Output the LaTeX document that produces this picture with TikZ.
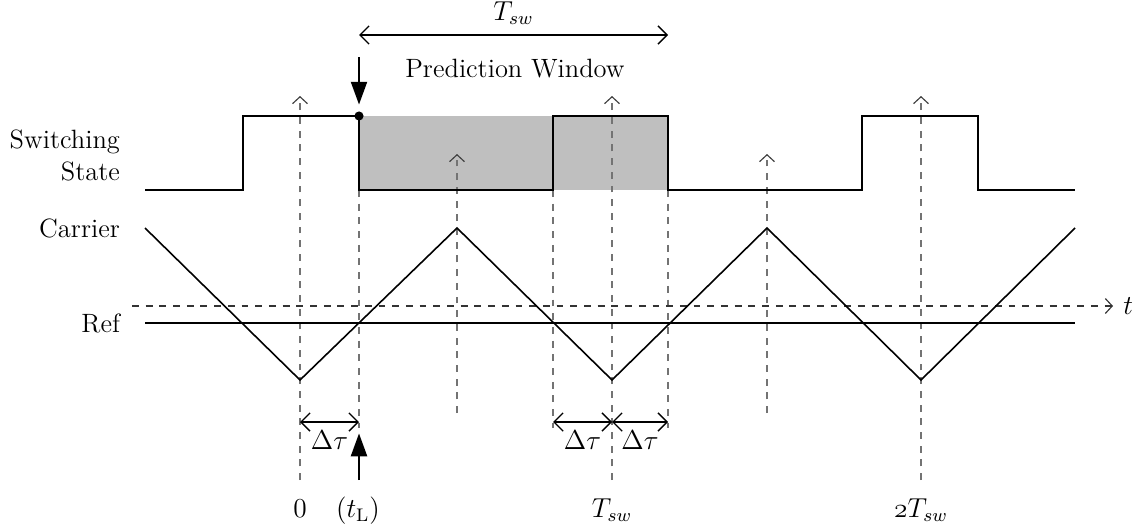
\documentclass[tikz,border=0pt]{standalone}
\usetikzlibrary{arrows.meta,positioning}
\tikzset{
  guide/.style={dashed, black!55, line width=0.5pt},
  guidetip/.style={guide, -{Straight Barb[length=3pt,width=6.5pt,black!75]}},
  wave/.style={line width=0.7pt},
  state/.style={line width=1.1pt},
  span/.style={{Straight Barb[length=4pt,width=8pt]}-{Straight Barb[length=4pt,width=8pt]}, line width=0.6pt},
  marker/.style={-{Triangle[length=10pt,width=7pt]}, line width=1pt},
  tick/.style={anchor=base},
}
\begin{document}
\begin{tikzpicture}[x=0.0154cm, y=-0.0154cm, font=\fontsize{11.6}{14}\selectfont]
\useasboundingbox (0,0) rectangle (1142,527);
% prediction window
\fill[gray!50] (359,116) rectangle (668,190);
% sampling instants
\foreach \x in {300,612,921} \draw[guidetip] (\x,480) -- (\x,96);
\foreach \x in {457,767} \draw[guidetip] (\x,413) -- (\x,154);
\foreach \x in {359,553,668} \draw[guide] (\x,190) -- (\x,428);
% time axis
\coordinate (ax0) at (132,306);
\coordinate (ax1) at (1113,306);
\draw[dashed, black!80, line width=0.5pt, -{Straight Barb[length=3pt,width=6.5pt]}] (ax0) -- (ax1);
\node[right=1pt of ax1] (tlab) {$t$};
% signals
\draw[state] (145,190) -- (243,190) -- (243,116) -- (359,116) -- (359,190) -- (553,190) -- (553,116) -- (668,116) -- (668,190) -- (862,190) -- (862,116) -- (978,116) -- (978,190) -- (1075,190);
\draw[wave] (145,228) -- (300,380) -- (457,228) -- (612,380) -- (767,228) -- (921,380) -- (1075,228);
\draw[wave] (145,323) -- (1075,323);
% row labels
\node[left, align=right] (swlab) at (128,155) {Switching\\State};
\node[left] (carlab) at (128,228) {Carrier};
\node[left] (reflab) at (128,323) {Ref};
% window
\coordinate (wl) at (359,35);
\coordinate (wr) at (668,35);
\draw[span] (wl) -- node[above=1pt] (tsw) {$T_{sw}$} (wr);
\node (pw) at (515,69) {Prediction Window};
\coordinate (tl) at (359,116);
\coordinate (tltop) at (359,57);
\draw[marker] (tltop) -- ([yshift=5pt]tl);
\fill (tl) circle (2pt);
% delays
\coordinate (d0) at (300,422);
\coordinate (d1) at (359,422);
\coordinate (d2) at (553,422);
\coordinate (d3) at (612,422);
\coordinate (d4) at (668,422);
\draw[span] (d0) -- node[below=0pt] (dt0) {$\Delta\tau$} (d1);
\draw[span] (d2) -- node[below=0pt] (dt1) {$\Delta\tau$} (d3);
\draw[span] (d3) -- node[below=0pt] (dt2) {$\Delta\tau$} (d4);
\coordinate (tlbot) at (359,480);
\draw[marker] (tlbot) -- ([yshift=-5pt]d1);
% time labels
\node[tick] (l0) at (300,517) {$0$};
\node[tick] (l1) at (358,517) {$(t_{\mathrm{L}})$};
\node[tick] (l2) at (612,517) {$T_{sw}$};
\node[tick] (l3) at (921,517) {$\mathnormal{2}T_{sw}$};
\end{tikzpicture}
\end{document}
